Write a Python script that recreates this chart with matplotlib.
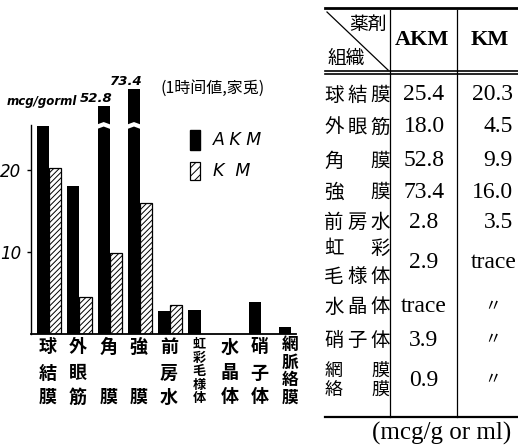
import numpy as np
import matplotlib
matplotlib.use('Agg')
import matplotlib.pyplot as plt
import matplotlib.transforms as mtransforms
from matplotlib.patches import Polygon, Rectangle
from matplotlib.lines import Line2D

# ---- data ----
tissues = ['球結膜', '外眼筋', '角膜', '強膜', '前房水', '虹彩毛様体', '水晶体', '硝子体', '網脈絡膜']
akm = [25.4, 18.0, 52.8, 73.4, 2.8, 2.9, np.nan, 3.9, 0.9]      # nan = trace
km = [20.3, 4.5, 9.9, 16.0, 3.5, np.nan, np.nan, np.nan, np.nan]
akm_txt = ['25.4', '18.0', '52.8', '73.4', '2.8', '2.9', 'trace', '3.9', '0.9']
km_txt = ['20.3', '4.5', '9.9', '16.0', '3.5', 'trace', '〃', '〃', '〃']
row_lbl = [['球結膜'], ['外眼筋'], ['角　膜'], ['強　膜'], ['前房水'],
           ['虹　彩', '毛様体'], ['水晶体'], ['硝子体'], ['網　膜', '絡　膜']]

JP = ['Noto Sans CJK JP', 'DejaVu Sans']
SERIF = 'Liberation Serif'

W, H = 518, 445
fig = plt.figure(figsize=(W / 100, H / 100), dpi=100)


def fx(x):
    return x / W


def fy(y):
    return 1 - y / H


# ---- bar chart ----
ax = fig.add_axes([fx(31), fy(334), (296 - 31) / W, (334 - 85) / H])
ax.set_xlim(-0.6, 8.15)
ax.set_ylim(0, (334 - 85) / 8.2)

x = np.arange(len(tissues))
akm_a = np.array(akm)
km_a = np.array(km)
# bars above the axis are broken: shown compressed above 25
disp = np.where(akm_a > 30, 25 + (akm_a - 25) * 0.1, akm_a)
m = ~np.isnan(akm_a)
ax.bar(x[m] - 0.2, disp[m], 0.4, color='black', zorder=2)
m2 = ~np.isnan(km_a)
plt.rcParams['hatch.linewidth'] = 0.7
ax.bar(x[m2] + 0.2, km_a[m2], 0.4, facecolor='white', edgecolor='black',
       hatch='//////', linewidth=0.9, zorder=2)

for i in np.where(akm_a > 30)[0]:
    x0, x1 = x[i] - 0.42, x[i] + 0.02
    xc = x[i] - 0.2
    pts = [(x0, 25.0), (xc, 25.3), (x1, 25.0), (x1, 25.55), (xc, 25.85), (x0, 25.55)]
    ax.add_patch(Polygon(pts, closed=True, facecolor='white', edgecolor='none', zorder=3))
    ax.text(x[i] - 0.45, disp[i] + 0.1, f'{akm_a[i]:.1f}', ha='center', va='bottom',
            fontsize=9.5, style='italic', fontweight='bold')

for s in ['top', 'right']:
    ax.spines[s].set_visible(False)
ax.spines['left'].set_bounds(0, 25.5)
ax.spines['left'].set_linewidth(1.0)
ax.spines['bottom'].set_linewidth(1.3)
ax.set_xticks([])
ax.set_yticks([10, 20])
ax.set_yticklabels(['10', '20'], fontsize=12, style='italic')
ax.tick_params(axis='y', length=3, width=1, pad=4)

fig.text(fx(7), fy(101), 'mcg/gorml', fontsize=8.5, style='italic', fontweight='bold',
         va='center', ha='left')
fig.text(fx(160), fy(88), '(1時间値,家兎)', fontsize=11.5, va='center', ha='left', family=JP)

# legend
fig.patches.append(Rectangle((fx(190), fy(150)), 10 / W, 20 / H, transform=fig.transFigure,
                             facecolor='black', edgecolor='black'))
fig.patches.append(Rectangle((fx(190), fy(180)), 10 / W, 18 / H, transform=fig.transFigure,
                             facecolor='white', edgecolor='black', hatch='////', lw=0.9))
fig.text(fx(213), fy(140), 'A K M', fontsize=12.5, style='italic', va='center')
fig.text(fx(213), fy(171), 'K  M', fontsize=12.5, style='italic', va='center')

# category labels, stacked vertically
bt = mtransforms.blended_transform_factory(ax.transData, fig.transFigure)
for i, name in enumerate(tissues):
    n = len(name)
    if n == 2:
        ys = [347, 397]
    elif n == 3:
        ys = [347, 373, 397]
    else:
        ys = np.linspace(344 if n > 4 else 345, 398, n)
    fs = 13 if n <= 3 else (12 if n == 4 else 9.5)
    for ch, yy in zip(name, ys):
        ax.text(x[i] - 0.05, fy(yy), ch, transform=bt, ha='center', va='center',
                fontsize=fs, family=JP, fontweight='bold')

# ---- table ----
lines = [
    ((325, 518), (8, 8), 2.0),
    ((325, 518), (71, 71), 1.2),
    ((325, 518), (74, 74), 1.2),
    ((325, 518), (417, 417), 1.6),
    ((390, 390), (10, 417), 0.9),
    ((457, 457), (10, 417), 0.9),
    ((327, 388), (12, 70), 0.9),
]
for (xs, ys, lw) in lines:
    fig.add_artist(Line2D([fx(v) for v in xs], [fy(v) for v in ys], color='black',
                          lw=lw, transform=fig.transFigure))

fig.text(fx(368), fy(24), '薬剤', fontsize=13.5, ha='center', va='center', family=JP)
fig.text(fx(346), fy(58), '組織', fontsize=13.5, ha='center', va='center', family=JP)
fig.text(fx(422), fy(40), 'AKM', fontsize=16, ha='center', va='center', family=SERIF,
         fontweight='bold')
fig.text(fx(490), fy(40), 'KM', fontsize=16, ha='center', va='center', family=SERIF,
         fontweight='bold')

row_y = [95, 127, 161, 192, 222, 263, 307, 340, 380]
sub_y = {5: [248, 277], 8: [371, 390]}
for r, yv in enumerate(row_y):
    ys = sub_y.get(r, [yv])
    fs = 13 if r == 8 else 14
    for txt, yy in zip(row_lbl[r], ys):
        for k, ch in enumerate(txt):
            if ch == '　':
                continue
            fig.text(fx(334 + 23 * k), fy(yy), ch, fontsize=fs, ha='center', va='center',
                     family=JP)
    fig.text(fx(424), fy(yv), akm_txt[r], fontsize=17, ha='center', va='center',
             family=SERIF)
    if km_txt[r] == '〃':
        fig.text(fx(493), fy(yv), '〃', fontsize=12, ha='center', va='center', family=JP)
    elif km_txt[r] == 'trace':
        fig.text(fx(494), fy(yv), km_txt[r], fontsize=17, ha='center', va='center',
                 family=SERIF)
    else:
        fig.text(fx(513), fy(yv), km_txt[r], fontsize=17, ha='right', va='center',
                 family=SERIF)

fig.text(fx(442), fy(433), '(mcg/g or ml)', fontsize=18, ha='center', va='center',
         family=SERIF)

fig.savefig('out.png', dpi=100)
